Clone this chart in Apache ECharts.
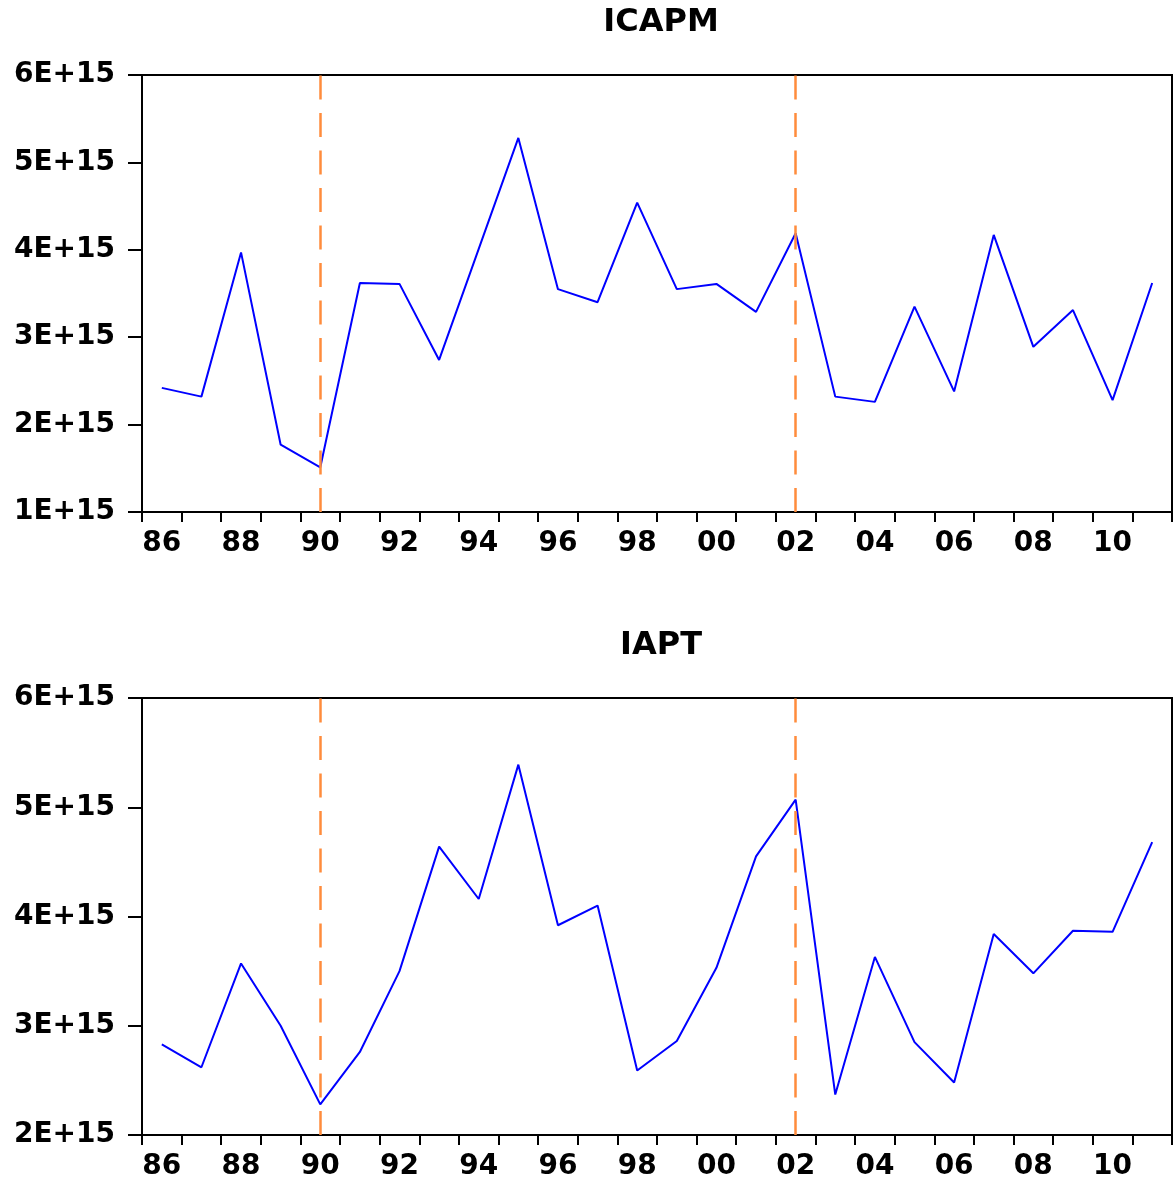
<!DOCTYPE html>
<html>
<head>
<meta charset="utf-8">
<script src="https://cdn.jsdelivr.net/npm/echarts@6/dist/echarts.min.js"></script>
<style>
html,body{margin:0;padding:0;background:#fff;}
#chart{width:1175px;height:1181px;}
</style>
</head>
<body>
<div id="chart"></div>
<script>
const years = ['86','87','88','89','90','91','92','93','94','95','96','97','98','99','00','01','02','03','04','05','06','07','08','09','10','11'];
const icapm = [2.42e15,2.32e15,3.97e15,1.77e15,1.51e15,3.62e15,3.61e15,2.74e15,4.01e15,5.28e15,3.55e15,3.40e15,4.54e15,3.55e15,3.61e15,3.29e15,4.19e15,2.32e15,2.26e15,3.35e15,2.38e15,4.17e15,2.89e15,3.31e15,2.28e15,3.62e15];
const iapt = [2.83e15,2.62e15,3.57e15,3.00e15,2.28e15,2.76e15,3.50e15,4.64e15,4.16e15,5.39e15,3.92e15,4.10e15,2.59e15,2.86e15,3.53e15,4.55e15,5.07e15,2.37e15,3.63e15,2.85e15,2.48e15,3.84e15,3.48e15,3.87e15,3.86e15,4.68e15];
const breakYears = ['90','02'];
const titles = ['ICAPM','IAPT'];

const font = 'DejaVu Sans';
const chart = echarts.init(document.getElementById('chart'));

function xAxisCfg(gi){
  return {
    type:'category', gridIndex:gi, data:years, boundaryGap:true,
    axisLine:{lineStyle:{color:'#000',width:2}},
    axisTick:{show:true,interval:0,length:10,lineStyle:{color:'#000',width:2}},
    axisLabel:{interval:1,color:'#000',fontFamily:font,fontWeight:'bold',fontSize:28,margin:18},
    splitLine:{show:false}
  };
}
function yAxisCfg(gi,min){
  return {
    type:'value', gridIndex:gi, min:min, max:6e15, interval:1e15,
    axisLine:{show:true,lineStyle:{color:'#000',width:2}},
    axisTick:{show:true,length:14,lineStyle:{color:'#000',width:2}},
    axisLabel:{color:'#000',fontFamily:font,fontWeight:'bold',fontSize:28,margin:27,
      formatter:v=>Math.round(v/1e15)+'E+15'},
    splitLine:{show:false}
  };
}
function seriesCfg(gi,data){
  return {
    type:'line', xAxisIndex:gi, yAxisIndex:gi, data:data,
    symbol:'none', lineStyle:{color:'#0000ff',width:2}, z:3,
    markLine:{
      silent:true, symbol:['none','none'], label:{show:false},
      lineStyle:{color:'#ff8c3c',type:[24,13.5],width:2.5},
      data:breakYears.map(y=>({xAxis:y}))
    }
  };
}

chart.setOption({
  animation:false,
  backgroundColor:'#fff',
  title:[
    {text:titles[0],left:656,top:2,textAlign:'center',textStyle:{fontFamily:font,fontWeight:'bold',fontSize:32,color:'#000'}},
    {text:titles[1],left:656,top:625,textAlign:'center',textStyle:{fontFamily:font,fontWeight:'bold',fontSize:32,color:'#000'}}
  ],
  grid:[
    {left:142,right:3,top:75,height:437,show:true,borderColor:'#000',borderWidth:2,backgroundColor:'transparent'},
    {left:142,right:3,top:698,height:438,show:true,borderColor:'#000',borderWidth:2,backgroundColor:'transparent'}
  ],
  xAxis:[xAxisCfg(0),xAxisCfg(1)],
  yAxis:[yAxisCfg(0,1e15),yAxisCfg(1,2e15)],
  series:[seriesCfg(0,icapm),seriesCfg(1,iapt)]
});
</script>
</body>
</html>
